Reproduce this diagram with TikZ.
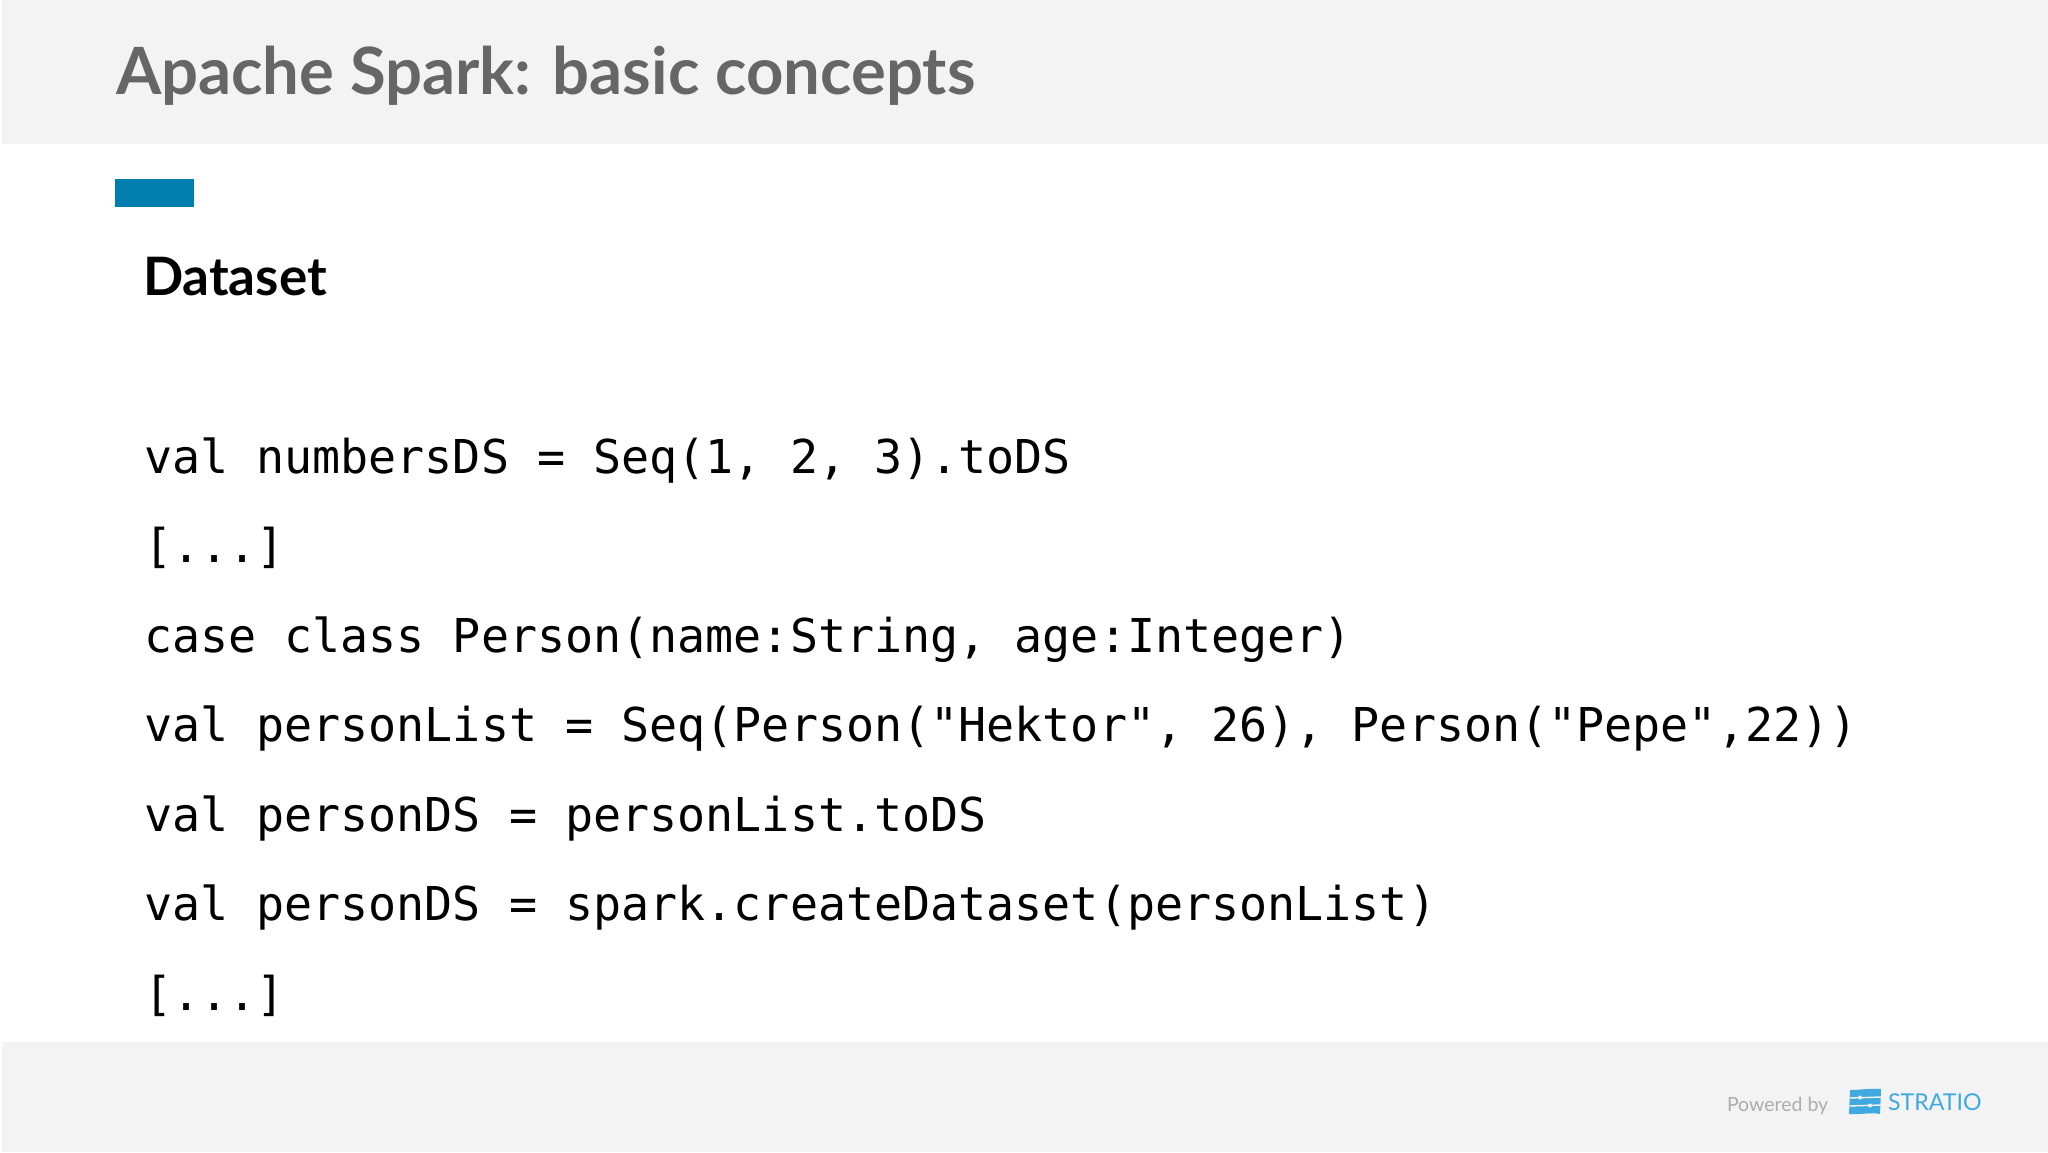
\documentclass[tikz,border=0pt]{standalone}
\usepackage{fontspec}
\setmainfont{Lato}
\setmonofont{DejaVu Sans Mono}
\newfontfamily\latobold{Lato Bold}
\definecolor{bandgray}{HTML}{F3F3F3}
\definecolor{titlegray}{HTML}{666666}
\definecolor{barblue}{HTML}{007EAE}
\definecolor{logoblue}{HTML}{3FA9E0}
\tikzset{
	txt/.style={anchor=base west, inner sep=0pt, outer sep=0pt},
	codeline/.style={txt, text=black, font=\fontsize{23.33}{28}\ttfamily},
}
\begin{document}
\begin{tikzpicture}[x=0.5pt, y=-0.5pt]
	\useasboundingbox (0,0) rectangle (2048,1152);
	
	\fill[bandgray] (2,0) rectangle (2048,144);
	\fill[bandgray] (2,1042) rectangle (2048,1152);
	\fill[barblue] (115,179) rectangle (194,207);
	
	\node[txt, text=titlegray, font=\fontsize{32.6}{38}\latobold] (title) at (116,94) {Apache Spark: basic concepts};
	\node[txt, text=black, font=\fontsize{26.5}{30}\latobold] (heading) at (143,295) {Dataset};
	
	\node[codeline] (numbers) at (144,473) {val numbersDS = Seq(1, 2, 3).toDS};
	\node[codeline] (dotsa) at (144,562.5) {[...]};
	\node[codeline] (caseclass) at (144,652) {case class Person(name:String, age:Integer)};
	\node[codeline] (personlist) at (144,741.5) {val personList = Seq(Person("Hektor", 26), Person("Pepe",22))};
	\node[codeline] (personds) at (144,831) {val personDS = personList.toDS};
	\node[codeline] (createds) at (144,920.5) {val personDS = spark.createDataset(personList)};
	\node[codeline] (dotsb) at (144,1010) {[...]};
	
	\node[txt, text=black!32, font=\fontsize{9.75}{12}\selectfont] (powered) at (1727,1111) {Powered by};
	\node[txt, text=logoblue, font=\fontsize{11.6}{14}\selectfont] (stratio) at (1888,1110) {STRATIO};
	
	\fill[logoblue] (1850,1090) .. controls (1860,1090) and (1870,1088) .. (1881,1089) -- (1880,1114) .. controls (1870,1112) and (1860,1115) .. (1849,1114) -- cycle;
	\draw[bandgray, line width=0.7pt] (1849,1098) -- (1881,1097);
	\draw[bandgray, line width=0.7pt] (1849,1106) -- (1881,1105);
	\fill[bandgray] (1860,1097.5) circle (2);
	\fill[bandgray] (1870,1105.5) circle (2);
	
\end{tikzpicture}
\end{document}
